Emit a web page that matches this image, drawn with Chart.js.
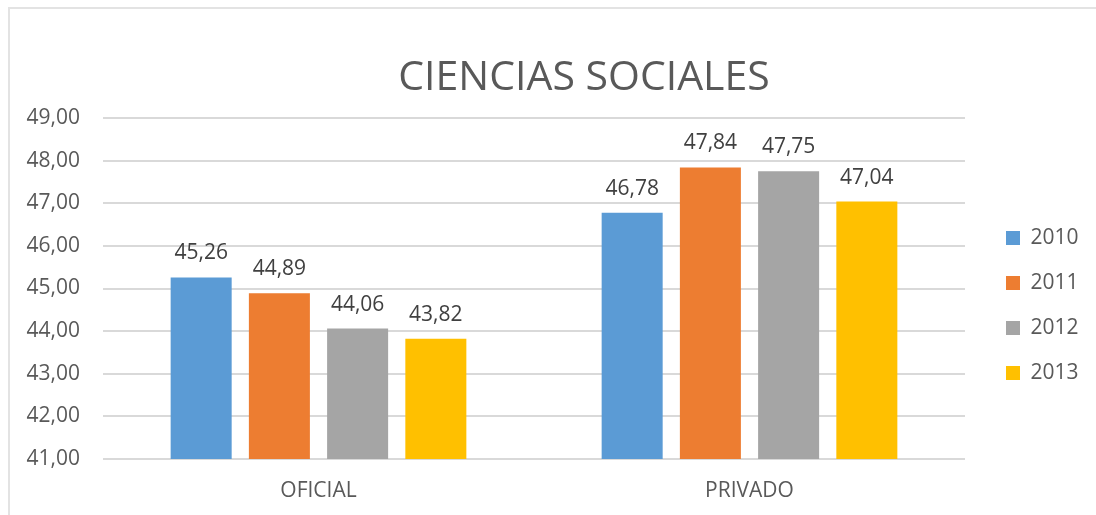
<!DOCTYPE html>
<html>
<head>
<meta charset="utf-8">
<title>Ciencias Sociales</title>
<script src="https://cdn.jsdelivr.net/npm/chart.js@4.4.1/dist/chart.umd.min.js"></script>
<style>
  html, body { margin: 0; padding: 0; background: #fff; }
  #wrap { position: relative; width: 1096px; height: 515px; overflow: hidden; }
  #frame {
    position: absolute; left: 8px; top: 7px; right: -10px; bottom: -10px;
    border-left: 2px solid #e3e3e3; border-top: 2px solid #e3e3e3;
  }
  canvas { position: absolute; left: 0; top: 0; }
</style>
</head>
<body>
<div id="wrap">
  <div id="frame"></div>
  <canvas id="chart" width="1096" height="515"></canvas>
</div>
<script>
// puntajes promedio por tipo de colegio
const categories = ['OFICIAL', 'PRIVADO'];
const years = ['2010', '2011', '2012', '2013'];
const values2010 = [45.26, 46.78];
const values2011 = [44.89, 47.84];
const values2012 = [44.06, 47.75];
const values2013 = [43.82, 47.04];
const yTicksMin = 41;
const yTicksMax = 49;
const chartTitle = 'CIENCIAS SOCIALES';

const seriesValues = [values2010, values2011, values2012, values2013];
const yearColors = ['#5B9BD5', '#ED7D31', '#A5A5A5', '#FFC000'];
const FONT = "'Open Sans', 'Noto Sans', sans-serif";
const TEXT_GREY = '#595959';

const fmt = v => v.toFixed(2).replace('.', ',');

// title drawn by hand so it can sit off-centre like the original sheet
const titlePlugin = {
  id: 'sheetTitle',
  afterDraw(chart) {
    const ctx = chart.ctx;
    ctx.save();
    ctx.font = `41px ${FONT}`;
    ctx.fillStyle = TEXT_GREY;
    ctx.textAlign = 'center';
    ctx.textBaseline = 'alphabetic';
    ctx.fillText(chartTitle, 584, 90);
    ctx.restore();
  }
};

// value labels above every bar
const barLabels = {
  id: 'barLabels',
  afterDatasetsDraw(chart) {
    const ctx = chart.ctx;
    ctx.save();
    ctx.font = `21px ${FONT}`;
    ctx.fillStyle = '#404040';
    ctx.textAlign = 'center';
    ctx.textBaseline = 'alphabetic';
    chart.data.datasets.forEach((ds, i) => {
      chart.getDatasetMeta(i).data.forEach((bar, j) => {
        ctx.fillText(fmt(ds.data[j]), bar.x, bar.y - 18);
      });
    });
    ctx.restore();
  }
};

// legend gets a fixed column width, then is nudged into place
const legendPlace = {
  id: 'legendPlace',
  beforeInit(chart) {
    const legend = chart.legend;
    const fit = legend.fit;
    legend.fit = function () {
      fit.call(this);
      this.width = 131;
    };
  },
  afterLayout(chart) {
    const lg = chart.legend;
    lg.left += 17; lg.right += 17;
    lg.top -= 11; lg.bottom -= 11;
  }
};

new Chart(document.getElementById('chart'), {
  type: 'bar',
  data: {
    labels: categories,
    datasets: years.map((y, i) => ({
      label: y,
      data: seriesValues[i],
      backgroundColor: yearColors[i],
      borderWidth: 0,
      barPercentage: 0.78,
      categoryPercentage: 0.726
    }))
  },
  options: {
    responsive: false,
    animation: false,
    devicePixelRatio: 1,
    layout: { padding: { top: 118, left: 0, right: 0, bottom: 0 } },
    scales: {
      x: {
        grid: { display: false, drawTicks: false },
        border: { display: false },
        ticks: { color: TEXT_GREY, font: { family: FONT, size: 21 }, padding: 19 },
        afterFit(scale) { scale.height = 56; }
      },
      y: {
        min: yTicksMin,
        max: yTicksMax,
        grid: { color: '#d9d9d9', lineWidth: 2, drawTicks: false },
        border: { display: false },
        ticks: {
          stepSize: 1,
          color: TEXT_GREY,
          font: { family: FONT, size: 21 },
          padding: 23,
          callback: v => fmt(v)
        },
        afterFit(scale) { scale.width = 103; }
      }
    },
    plugins: {
      title: { display: false },
      tooltip: { enabled: false },
      legend: {
        position: 'right',
        labels: {
          boxWidth: 14,
          boxHeight: 14,
          padding: 24,
          color: TEXT_GREY,
          font: { family: FONT, size: 21 }
        }
      }
    }
  },
  plugins: [titlePlugin, barLabels, legendPlace]
});
</script>
</body>
</html>
